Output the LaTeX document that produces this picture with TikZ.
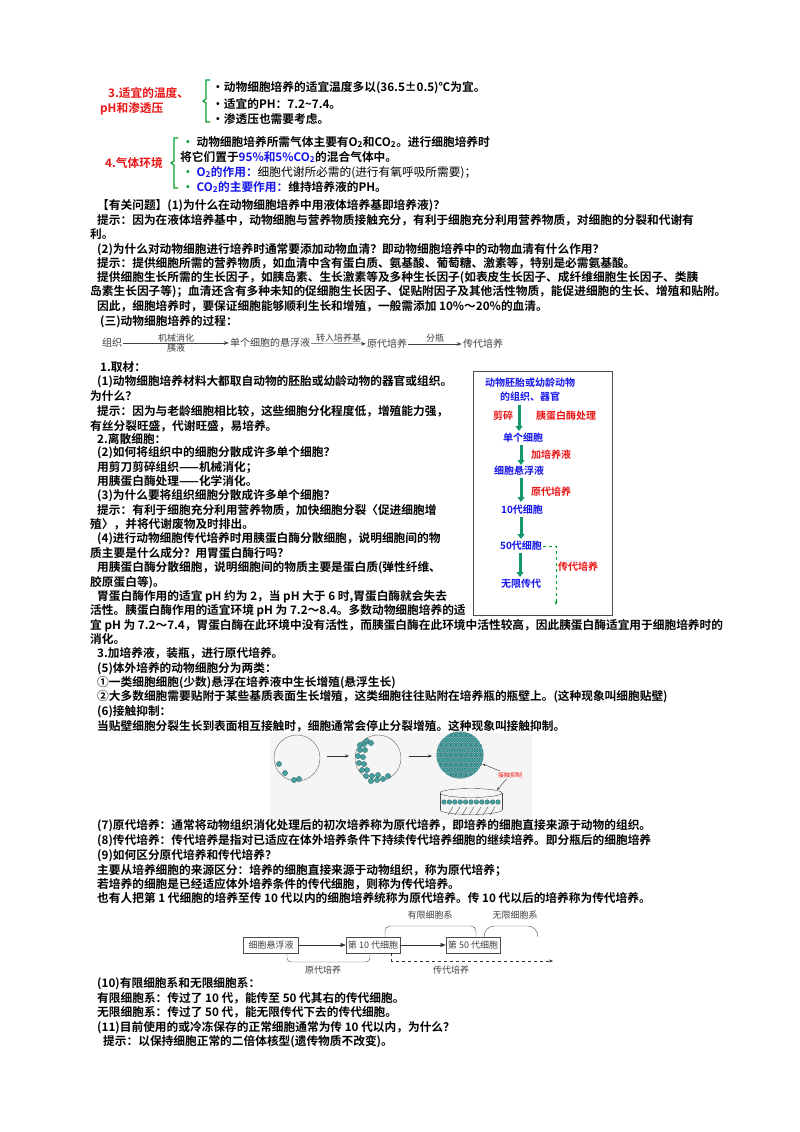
\documentclass[tikz,border=0pt]{standalone}
\usepackage{fontspec}
\setmainfont{Noto Sans CJK SC}[BoldFont={* Bold}]
\usetikzlibrary{arrows.meta,decorations.pathreplacing,patterns}
\definecolor{rd}{RGB}{235,20,20}
\definecolor{bl}{RGB}{20,20,235}
\definecolor{gr}{RGB}{0,160,40}
\definecolor{tl}{RGB}{20,150,110}
\definecolor{cell}{RGB}{70,160,160}
\tikzset{txt/.style={anchor=base west,inner sep=0,font=\fontsize{11.7}{12}\selectfont\bfseries},
 hand/.style={inner sep=1pt,font=\fontsize{10}{11}\selectfont,text=black!75},
 handl/.style={inner sep=1pt,font=\fontsize{9}{10}\selectfont,text=black!75},
 small/.style={inner sep=1pt,font=\fontsize{9}{10}\selectfont,text=black!75},
 fat/.style={-{Triangle[width=7pt,length=5pt]},line width=3pt,tl},
 cl/.style={fill=cell,draw=cell!60!black,line width=0.3pt},
 fbox/.style={draw=black!70,line width=0.8pt,inner sep=2pt,font=\fontsize{9}{10}\selectfont,text=black!75}}
\newcommand{\Ln}[4][]{\node[txt,#1] (n#3) at (#2,-#3-4) {#4};}
\begin{document}
\begin{tikzpicture}[x=1pt,y=1pt]
\useasboundingbox[fill=white] (0,0) rectangle (800,-1132);
% section 3
\node[txt,text=rd] (t3a) at (108,-97) {3.适宜的温度、};
\node[txt,text=rd] (t3b) at (100,-112) {pH和渗透压};
\draw[gr,line width=1.2pt] (210,-80) -- (206,-80) -- (206,-99) -- (203,-101) -- (206,-103) -- (206,-122) -- (210,-122);
\Ln{212}{88}{·动物细胞培养的适宜温度多以(36.5±0.5)℃为宜。}
\Ln{212}{104}{·适宜的PH：7.2\char"7E 7.4。}
\Ln{212}{119}{·渗透压也需要考虑。}
% section 4
\node[txt,text=rd] (t4) at (105,-167) {4.气体环境};
\draw[gr,line width=1.2pt] (178,-138) -- (174,-138) -- (174,-161) -- (171,-163) -- (174,-165) -- (174,-188) -- (178,-188);
\Ln{182}{142}{\textcolor{gr}{·} 动物细胞培养所需气体主要有O\textsubscript{2}和CO\textsubscript{2}。进行细胞培养时}
\Ln{180}{157}{将它们置于\textcolor{bl}{95\%和5\%CO\textsubscript{2}}的混合气体中。}
\Ln{182}{172}{\textcolor{gr}{·} \textcolor{bl}{O\textsubscript{2}的作用：}\mdseries 细胞代谢所必需的(进行有氧呼吸所需要)；}
\Ln{182}{187}{\textcolor{gr}{·} \textcolor{bl}{CO\textsubscript{2}的主要作用：}维持培养液的PH。}
% questions
\Ln{97}{205}{【有关问题】(1)为什么在动物细胞培养中用液体培养基即培养液)？}
\Ln{97}{220}{提示：因为在液体培养基中，动物细胞与营养物质接触充分，有利于细胞充分利用营养物质，对细胞的分裂和代谢有}
\Ln{90}{234}{利。}
\Ln{97}{249}{(2)为什么对动物细胞进行培养时通常要添加动物血清？即动物细胞培养中的动物血清有什么作用？}
\Ln{97}{263}{提示：提供细胞所需的营养物质，如血清中含有蛋白质、氨基酸、葡萄糖、激素等，特别是必需氨基酸。}
\Ln{97}{277}{提供细胞生长所需的生长因子，如胰岛素、生长激素等及多种生长因子(如表皮生长因子、成纤维细胞生长因子、类胰}
\Ln{90}{291}{岛素生长因子等)；血清还含有多种未知的促细胞生长因子、促贴附因子及其他活性物质，能促进细胞的生长、增殖和贴附。}
\Ln{97}{306}{因此，细胞培养时，要保证细胞能够顺利生长和增殖，一般需添加 10\%～20\%的血清。}
\Ln{100}{321}{(三)动物细胞培养的过程：}
% process line
\node[hand] (p1) at (112,-343) {组织};
\node[hand] (p2) at (270,-343) {单个细胞的悬浮液};
\node[hand] (p3) at (387,-344) {原代培养};
\node[hand] (p4) at (483,-344) {传代培养};
\draw[-{Stealth[length=5pt]},black!75] (p1) -- node[handl,above,inner sep=1pt]{机械消化} node[handl,below,inner sep=1pt]{胰液} (p2);
\draw[-{Stealth[length=5pt]},black!75] (p2) -- node[handl,above,inner sep=1pt]{转入培养基} (p3);
\draw[-{Stealth[length=5pt]},black!75,line width=0.9pt] (p3) -- node[handl,above,inner sep=1pt]{分瓶} (p4);
% part 1
\Ln{100}{367}{1.取材：}
\Ln{97}{381}{(1)动物细胞培养材料大都取自动物的胚胎或幼龄动物的器官或组织。}
\Ln{90}{396}{为什么？}
\Ln{97}{411}{提示：因为与老龄细胞相比较，这些细胞分化程度低，增殖能力强，}
\Ln{90}{426}{有丝分裂旺盛，代谢旺盛，易培养。}
\Ln{97}{439}{2.离散细胞：}
\Ln{97}{452}{(2)如何将组织中的细胞分散成许多单个细胞？}
\Ln{97}{467}{用剪刀剪碎组织——机械消化；}
\Ln{97}{481}{用胰蛋白酶处理——化学消化。}
\Ln{97}{495}{(3)为什么要将组织细胞分散成许多单个细胞？}
\Ln{97}{510}{提示：有利于细胞充分利用营养物质，加快细胞分裂〈促进细胞增}
\Ln{90}{524}{殖〉，并将代谢废物及时排出。}
\Ln{97}{538}{(4)进行动物细胞传代培养时用胰蛋白酶分散细胞，说明细胞间的物}
\Ln{90}{553}{质主要是什么成分？用胃蛋白酶行吗？}
\Ln{97}{567}{用胰蛋白酶分散细胞，说明细胞间的物质主要是蛋白质(弹性纤维、}
\Ln{90}{582}{胶原蛋白等)。}
\Ln{97}{596}{胃蛋白酶作用的适宜 pH 约为 2，当 pH 大于 6 时,胃蛋白酶就会失去}
\Ln{90}{610}{活性。胰蛋白酶作用的适宜环境 pH 为 7.2～8.4。多数动物细胞培养的适}
\Ln{90}{625}{宜 pH 为 7.2～7.4，胃蛋白酶在此环境中没有活性，而胰蛋白酶在此环境中活性较高，因此胰蛋白酶适宜用于细胞培养时的}
\Ln{90}{639}{消化。}
% right box
\draw[black!70,line width=0.8pt] (473,-371) rectangle (612,-615);
\node[inner sep=0,align=center,text=bl,font=\fontsize{10}{14}\selectfont\bfseries] (b0) at (530,-390) {动物胚胎或幼龄动物\\的组织、器官};
\node[inner sep=1pt,text=bl,font=\fontsize{10}{12}\selectfont\bfseries] (b1) at (523,-438) {单个细胞};
\node[inner sep=1pt,text=bl,font=\fontsize{10}{12}\selectfont\bfseries] (b2) at (519,-471) {细胞悬浮液};
\node[inner sep=1pt,text=bl,font=\fontsize{10}{12}\selectfont\bfseries] (b3) at (522,-510) {10代细胞};
\node[inner sep=1pt,text=bl,font=\fontsize{10}{12}\selectfont\bfseries] (b4) at (521,-546) {50代细胞};
\node[inner sep=1pt,text=bl,font=\fontsize{10}{12}\selectfont\bfseries] (b5) at (521,-584) {无限传代};
\draw[fat] (519,-405) -- (519,-431);
\draw[fat] (521,-445) -- (521,-465);
\draw[fat] (521,-478) -- (521,-502);
\draw[fat] (521,-517) -- (521,-539);
\draw[fat] (520,-553) -- (520,-577);
\node[inner sep=0,text=rd,font=\fontsize{10}{12}\selectfont\bfseries] (r1) at (503,-416) {剪碎};
\node[inner sep=0,text=rd,font=\fontsize{10}{12}\selectfont\bfseries] (r2) at (566,-416) {胰蛋白酶处理};
\node[inner sep=0,text=rd,font=\fontsize{10}{12}\selectfont\bfseries] (r3) at (551,-455) {加培养液};
\node[inner sep=0,text=rd,font=\fontsize{10}{12}\selectfont\bfseries] (r4) at (551,-492) {原代培养};
\node[inner sep=0,text=rd,font=\fontsize{10}{12}\selectfont\bfseries] (r5) at (578,-567) {传代培养};
\coordinate (dg) at (556,-605);
\draw[gr,dashed,line width=0.8pt,-{Stealth[length=4pt]}] (b4.east) -| (dg);
% part 3
\Ln{97}{653}{3.加培养液，装瓶，进行原代培养。}
\Ln{97}{668}{(5)体外培养的动物细胞分为两类：}
\Ln{97}{682}{①一类细胞细胞(少数)悬浮在培养液中生长增殖(悬浮生长)}
\Ln{97}{696}{②大多数细胞需要贴附于某些基质表面生长增殖，这类细胞往往贴附在培养瓶的瓶壁上。(这种现象叫细胞贴壁)}
\Ln{97}{711}{(6)接触抑制：}
\Ln{97}{726}{当贴壁细胞分裂生长到表面相互接触时，细胞通常会停止分裂增殖。这种现象叫接触抑制。}
% contact inhibition figure
\fill[black!4] (270,-733) rectangle (532,-820);
\draw[black!60] (297,-758) circle (23);
\foreach \p in {(279,-764),(285,-773),(294,-780),(299,-779)} \draw[cl] \p circle (2.6);
\draw[black!60] (378,-758) circle (23);
\foreach \p in {(364,-744),(367,-741),(371,-743),(360,-750),(365,-750),(358,-756),(363,-757),(359,-763),(364,-764),(362,-770),(367,-770),(366,-776),(372,-776),(371,-781),(377,-780),(383,-779),(378,-775),(388,-776),(360,-745)} \draw[cl] \p circle (2.6);
\node[circle,minimum size=48,inner sep=0] (c3) at (460,-755) {};
\begin{scope}
\clip (460,-755) circle (23.5);
\fill[cell!60!white] (460,-755) circle (24);
\foreach \i in {0,...,10} \foreach \j in {0,...,10}
  \draw[cl] ({436+\i*5+mod(\j,2)*2.5},{-780+\j*5}) circle (2.4);
\end{scope}
\node[inner sep=1pt,text=rd,font=\fontsize{6}{7}\selectfont] (lab) at (510,-775) {接触抑制};
\draw[-{Stealth[length=3pt]},black!80] (lab) -- (c3);
\draw[black!70] (471,-793) ellipse (31 and 4.5) ;
\draw[black!70] (440,-793) -- (440,-810);
\draw[black!70] (502,-793) -- (502,-810);
\draw[black!70] (440,-810) arc (180:360:31 and 4.5);
\foreach \k in {0,...,10} \draw[cl] ({444+\k*5.4},-802) circle (2.3);
\foreach \k in {0,...,6} \draw[black!70] ({448+\k*7},-815) -- ({453+\k*7},-807);
\coordinate (dish) at (497,-790);
\draw[-{Stealth[length=3pt]},black!80] (lab) -- (dish);
\draw[-{Stealth[length=4pt]},black!80] (327,-756) -- (349,-756);
\draw[-{Stealth[length=4pt]},black!80] (409,-756) -- (432,-756);
% part 7-9
\Ln{97}{825}{(7)原代培养：通常将动物组织消化处理后的初次培养称为原代培养，即培养的细胞直接来源于动物的组织。}
\Ln{97}{840}{(8)传代培养：传代培养是指对已适应在体外培养条件下持续传代培养细胞的继续培养。即分瓶后的细胞培养}
\Ln{97}{855}{(9)如何区分原代培养和传代培养？}
\Ln{97}{870}{主要从培养细胞的来源区分：培养的细胞直接来源于动物组织，称为原代培养；}
\Ln{97}{884}{若培养的细胞是已经适应体外培养条件的传代细胞，则称为传代培养。}
\Ln{97}{898}{也有人把第 1 代细胞的培养至传 10 代以内的细胞培养统称为原代培养。传 10 代以后的培养称为传代培养。}
% lineage diagram
\node[fbox,minimum width=55,minimum height=16] (f1) at (271,-945) {细胞悬浮液};
\node[fbox,minimum width=52,minimum height=16] (f2) at (373,-945) {第 10 代细胞};
\node[fbox,minimum width=53,minimum height=16] (f3) at (473,-945) {第 50 代细胞};
\draw[-{Triangle[length=5pt,width=4pt]},black!80] (f1) -- (f2);
\draw[-{Triangle[length=5pt,width=4pt]},black!80] (f2) -- (f3);
\draw[black!70] (287,-954) -- (287,-958) arc (180:270:4) -- (366,-962) arc (270:360:4) -- (370,-954);
\node[small] (l1) at (323,-970) {原代培养};
\draw[black!70] (385,-937) -- (385,-931) arc (180:90:5) -- (471,-926) arc (90:0:5) -- (476,-937);
\node[small] (l2) at (430,-915) {有限细胞系};
\draw[black!70] (484,-937) arc (180:90:10 and 11) -- (528,-926) arc (90:0:10 and 11);
\node[small] (l3) at (515,-915) {无限细胞系};
\coordinate (dend) at (553,-961);
\draw[black!80,dashed,-{Stealth[length=4pt]}] (f2.south west) ++(46,0) |- (dend);
\node[small] (l4) at (451,-970) {传代培养};
% part 10-11
\Ln{97}{983}{(10)有限细胞系和无限细胞系：}
\Ln{97}{998}{有限细胞系：传过了 10 代，能传至 50 代其右的传代细胞。}
\Ln{97}{1012}{无限细胞系：传过了 50 代，能无限传代下去的传代细胞。}
\Ln{97}{1027}{(11)目前使用的或冷冻保存的正常细胞通常为传 10 代以内，为什么？}
\Ln{103}{1041}{提示：以保持细胞正常的二倍体核型(遗传物质不改变)。}
\end{tikzpicture}
\end{document}
